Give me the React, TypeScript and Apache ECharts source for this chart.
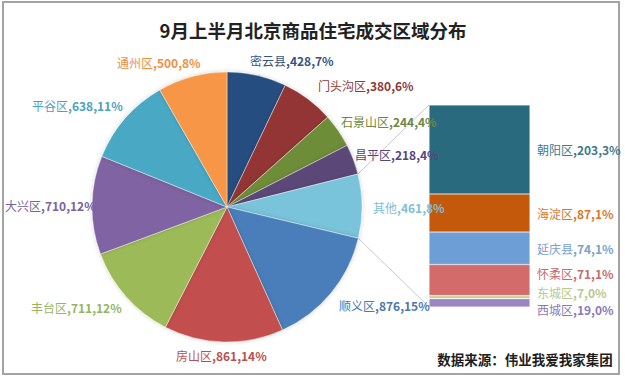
import React, { useEffect, useRef } from "react";
import * as echarts from "echarts";

const TITLE = "9月上半月北京商品住宅成交区域分布";
const SOURCE = "数据来源：伟业我爱我家集团";

const pieNames = ["密云县", "门头沟区", "石景山区", "昌平区", "其他", "顺义区", "房山区", "丰台区", "大兴区", "平谷区", "通州区"];
const pieValues = [428, 380, 244, 218, 461, 876, 861, 711, 710, 638, 500];
const pieColors = ["#264E7F", "#933634", "#6E8D37", "#5C4779", "#79C4DA", "#4A7EBB", "#C2504D", "#9CBB58", "#8064A2", "#48A9C5", "#F79646"];
const pieLabelColors = ["#35557F", "#8E3A38", "#6F8742", "#56467A", "#7FC0D4", "#4C77AE", "#B9504E", "#97B560", "#7A62A0", "#4AA3BE", "#EE9042"];

// bottom to top of the stacked bar
const barNames = ["西城区", "东城区", "怀柔区", "延庆县", "海淀区", "朝阳区"];
const barValues = [19, 7, 71, 74, 87, 203];
const barColors = ["#9A85C5", "#C9CF92", "#D46B6B", "#6E9ED6", "#C5590B", "#2A6A7E"];
const barLabelColors = ["#8B7AB8", "#B7C98C", "#C76A6A", "#7B9FD0", "#D9772A", "#3F7A8C"];
const barLabelShift = [7, -5, -7, 0, 0, 0];

// label anchors (left edge, vertical middle) for pie labels
const pieLabelPos: [number, number][] = [
  [250, 60], [318, 85], [341, 121], [355, 154], [373, 207], [339, 305],
  [176, 355], [31, 307], [5, 205], [32, 105], [117, 62],
];

const CX = 227;
const CY = 207;
const R = 135;
const GRID = { left: 429, top: 105, width: 101, height: 202 };

export default function App() {
  const ref = useRef<HTMLDivElement>(null);
  useEffect(() => {
    if (!ref.current) return;
    const chart = echarts.init(ref.current, null, { renderer: "svg" });
    const total = pieValues.reduce((a, b) => a + b, 0);
    const barTotal = barValues.reduce((a, b) => a + b, 0);
    const pct = (v: number) => Math.round((v / total) * 100) + "%";
    const font = "'Noto Sans CJK SC', 'Noto Sans', sans-serif";

    const pieData = pieNames.map((n, i) => ({
      name: n,
      value: pieValues[i],
      itemStyle: { color: pieColors[i] },
      label: {
        formatter: `{n|${n}}{v|,${pieValues[i]},${pct(pieValues[i])}}`,
        rich: {
          n: { color: pieLabelColors[i], fontSize: 12, fontFamily: font },
          v: { color: pieLabelColors[i], fontSize: 12, fontWeight: "bold", fontFamily: font },
        },
      },
    }));

    const barSeries = barNames.map((n, i) => ({
      type: "bar",
      name: n,
      stack: "other",
      barWidth: "100%",
      xAxisIndex: 0,
      yAxisIndex: 0,
      data: [barValues[i]],
      itemStyle: { color: barColors[i], borderColor: "rgba(255,255,255,0.45)", borderWidth: 0.6 },
      label: {
        show: true,
        position: "right",
        distance: 7,
        lineHeight: 12,
        offset: [0, barLabelShift[i]],
        formatter: `{n|${n}}{v|,${barValues[i]},${pct(barValues[i])}}`,
        rich: {
          n: { color: barLabelColors[i], fontSize: 12, lineHeight: 12, fontFamily: font },
          v: { color: barLabelColors[i], fontSize: 12, lineHeight: 12, fontWeight: "bold", fontFamily: font },
        },
      },
    }));

    chart.setOption({
      animation: false,
      backgroundColor: "#ffffff",
      title: {
        text: TITLE,
        left: 308,
        top: 16,
        textAlign: "center",
        textStyle: { fontSize: 18.5, fontWeight: "bold", color: "#222", fontFamily: font },
      },
      grid: { ...GRID, containLabel: false },
      xAxis: { type: "category", data: ["其他"], show: false },
      yAxis: { type: "value", min: 0, max: barTotal, show: false },
      series: [
        {
          type: "pie",
          center: [CX, CY],
          radius: R,
          startAngle: 90,
          clockwise: true,
          data: pieData,
          itemStyle: { borderColor: "rgba(255,255,255,0.5)", borderWidth: 0.8, shadowBlur: 4, shadowColor: "rgba(0,0,0,0.18)" },
          label: { show: true, position: "outside", overflow: "none", alignTo: "none", bleedMargin: 0 },
          labelLine: { show: false },
          labelLayout: (p: any) => ({
            x: pieLabelPos[p.dataIndex][0],
            y: pieLabelPos[p.dataIndex][1],
            align: "left",
            verticalAlign: "middle",
            width: 120,
          }),
          emphasis: { disabled: true },
        },
        ...barSeries,
      ],
    });

    // connector lines from the "其他" slice to the bar
    const otherIdx = pieNames.indexOf("其他");
    const before = pieValues.slice(0, otherIdx).reduce((a, b) => a + b, 0);
    const a0 = (before / total) * Math.PI * 2;
    const a1 = ((before + pieValues[otherIdx]) / total) * Math.PI * 2;
    const p0 = [CX + R * Math.sin(a0), CY - R * Math.cos(a0)];
    const p1 = [CX + R * Math.sin(a1), CY - R * Math.cos(a1)];
    const yTop = chart.convertToPixel({ yAxisIndex: 0 }, barTotal) as number;
    const yBot = chart.convertToPixel({ yAxisIndex: 0 }, 0) as number;
    const xLeft = GRID.left;

    chart.setOption({
      graphic: [
        {
          type: "rect",
          shape: { x: 3, y: 2, width: 616, height: 372 },
          style: { fill: "none", stroke: "#a3a3a3", lineWidth: 2 },
          silent: true,
          z: -10,
        },
        {
          type: "line",
          shape: { x1: p0[0], y1: p0[1], x2: xLeft, y2: yTop },
          style: { stroke: "#c9c9c9", lineWidth: 1 },
          silent: true,
          z: -1,
        },
        {
          type: "line",
          shape: { x1: p1[0], y1: p1[1], x2: xLeft, y2: yBot },
          style: { stroke: "#c9c9c9", lineWidth: 1 },
          silent: true,
          z: -1,
        },
        {
          type: "text",
          x: 525,
          y: 359,
          style: {
            text: SOURCE,
            fontSize: 13.5,
            fontWeight: "bold",
            fill: "#1e1e1e",
            fontFamily: font,
            align: "center",
            verticalAlign: "middle",
          },
          silent: true,
        },
      ],
    });

    return () => chart.dispose();
  }, []);

  return (
    <div
      ref={ref}
      style={{ position: "absolute", left: 0, top: 0, width: 625, height: 383 }}
    />
  );
}
